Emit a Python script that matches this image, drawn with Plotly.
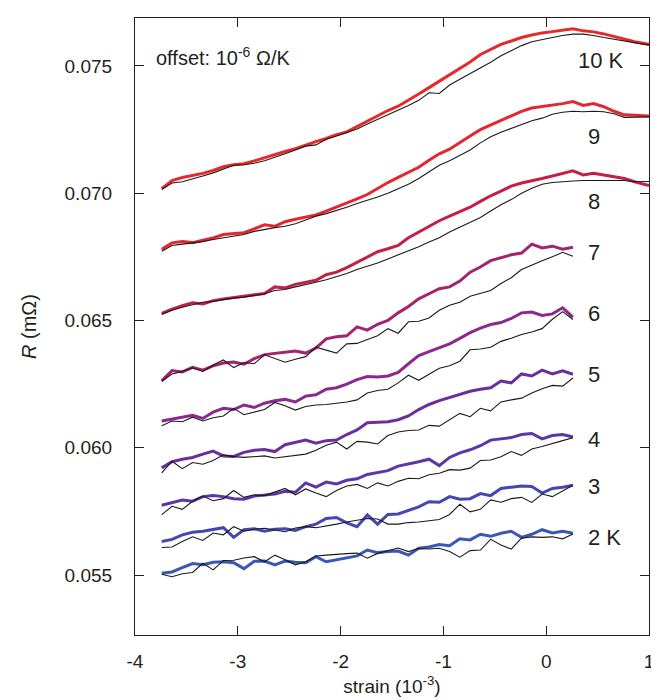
import plotly.graph_objects as go

# strain (10^-3) sample positions
x_short = [-3.74, -3.64, -3.54, -3.44, -3.34, -3.24, -3.14, -3.04, -2.94, -2.84,
           -2.74, -2.64, -2.54, -2.44, -2.34, -2.24, -2.14, -2.04, -1.94, -1.84,
           -1.74, -1.64, -1.54, -1.44, -1.34, -1.24, -1.14, -1.04, -0.94, -0.84,
           -0.74, -0.64, -0.54, -0.44, -0.34, -0.24, -0.14, -0.04, 0.06, 0.16, 0.26]
x_long = [-3.74, -3.64, -3.54, -3.44, -3.34, -3.24, -3.14, -3.04, -2.94, -2.84,
          -2.74, -2.64, -2.54, -2.44, -2.34, -2.24, -2.14, -2.04, -1.94, -1.84,
          -1.74, -1.64, -1.54, -1.44, -1.34, -1.24, -1.14, -1.04, -0.94, -0.84,
          -0.74, -0.64, -0.54, -0.44, -0.34, -0.24, -0.14, -0.04, 0.06, 0.16,
          0.26, 0.36, 0.46, 0.56, 0.66, 0.76, 0.86, 1.0]

# R (mOhm), coloured curves and black reference curves
r10 = [0.07018, 0.07050, 0.07062, 0.07070, 0.07078, 0.07090, 0.07104, 0.07112, 0.07116, 0.07127,
       0.07140, 0.07150, 0.07164, 0.07175, 0.07190, 0.07203, 0.07215, 0.07230, 0.07241, 0.07262,
       0.07285, 0.07306, 0.07325, 0.07342, 0.07365, 0.07390, 0.07415, 0.07440, 0.07468, 0.07492,
       0.07516, 0.07545, 0.07566, 0.07585, 0.07598, 0.07612, 0.07622, 0.07630, 0.07635, 0.07640,
       0.07646, 0.07638, 0.07634, 0.07626, 0.07615, 0.07605, 0.07595, 0.07585]
b10 = [0.07015, 0.07040, 0.07045, 0.07058, 0.07068, 0.07080, 0.07095, 0.07110, 0.07112, 0.07118,
       0.07128, 0.07140, 0.07155, 0.07170, 0.07185, 0.07190, 0.07212, 0.07225, 0.07238, 0.07252,
       0.07272, 0.07290, 0.07310, 0.07325, 0.07345, 0.07365, 0.07395, 0.07392, 0.07425, 0.07448,
       0.07470, 0.07492, 0.07515, 0.07540, 0.07560, 0.07580, 0.07595, 0.07605, 0.07612, 0.07620,
       0.07625, 0.07625, 0.07620, 0.07612, 0.07605, 0.07598, 0.07590, 0.07582]
r9 = [0.06780, 0.06805, 0.06810, 0.06806, 0.06815, 0.06824, 0.06838, 0.06842, 0.06845, 0.06860,
      0.06876, 0.06870, 0.06888, 0.06898, 0.06905, 0.06915, 0.06930, 0.06945, 0.06962, 0.06978,
      0.06995, 0.07020, 0.07042, 0.07062, 0.07082, 0.07102, 0.07130, 0.07155, 0.07173, 0.07200,
      0.07225, 0.07250, 0.07268, 0.07285, 0.07302, 0.07322, 0.07335, 0.07340, 0.07345, 0.07352,
      0.07360, 0.07345, 0.07352, 0.07340, 0.07322, 0.07308, 0.07306, 0.07303]
b9 = [0.06772, 0.06795, 0.06800, 0.06805, 0.06810, 0.06818, 0.06825, 0.06830, 0.06838, 0.06850,
      0.06858, 0.06865, 0.06870, 0.06880, 0.06895, 0.06910, 0.06920, 0.06932, 0.06945, 0.06960,
      0.06972, 0.06985, 0.07000, 0.07018, 0.07035, 0.07058, 0.07085, 0.07110, 0.07128, 0.07150,
      0.07170, 0.07198, 0.07222, 0.07240, 0.07255, 0.07272, 0.07285, 0.07295, 0.07310, 0.07318,
      0.07322, 0.07320, 0.07322, 0.07320, 0.07312, 0.07298, 0.07300, 0.07300]
r8 = [0.06528, 0.06545, 0.06558, 0.06570, 0.06565, 0.06578, 0.06585, 0.06590, 0.06596, 0.06600,
      0.06606, 0.06632, 0.06628, 0.06642, 0.06650, 0.06658, 0.06680, 0.06690, 0.06708, 0.06728,
      0.06748, 0.06770, 0.06782, 0.06795, 0.06825, 0.06848, 0.06872, 0.06892, 0.06910, 0.06926,
      0.06945, 0.06968, 0.06990, 0.07008, 0.07028, 0.07040, 0.07048, 0.07058, 0.07068, 0.07078,
      0.07088, 0.07072, 0.07078, 0.07072, 0.07065, 0.07058, 0.07045, 0.07030]
b8 = [0.06524, 0.06540, 0.06552, 0.06562, 0.06572, 0.06575, 0.06582, 0.06588, 0.06592, 0.06598,
      0.06605, 0.06618, 0.06622, 0.06632, 0.06640, 0.06650, 0.06660, 0.06672, 0.06685, 0.06700,
      0.06712, 0.06726, 0.06742, 0.06758, 0.06772, 0.06790, 0.06808, 0.06825, 0.06848, 0.06868,
      0.06885, 0.06905, 0.06930, 0.06955, 0.06975, 0.07000, 0.07020, 0.07035, 0.07042, 0.07046,
      0.07048, 0.07050, 0.07050, 0.07052, 0.07052, 0.07050, 0.07045, 0.07046]
r7 = [0.06263, 0.06303, 0.06298, 0.06316, 0.06305, 0.06322, 0.06333, 0.06337, 0.06328, 0.06350,
      0.06366, 0.06370, 0.06375, 0.06380, 0.06372, 0.06392, 0.06428, 0.06436, 0.06440, 0.06475,
      0.06462, 0.06485, 0.06500, 0.06530, 0.06555, 0.06585, 0.06605, 0.06625, 0.06632, 0.06655,
      0.06690, 0.06710, 0.06735, 0.06748, 0.06758, 0.06765, 0.06800, 0.06785, 0.06792, 0.06780,
      0.06788]
b7 = [0.06261, 0.06290, 0.06300, 0.06314, 0.06300, 0.06325, 0.06345, 0.06315, 0.06335, 0.06330,
      0.06365, 0.06350, 0.06336, 0.06348, 0.06358, 0.06395, 0.06385, 0.06372, 0.06408, 0.06410,
      0.06425, 0.06440, 0.06468, 0.06450, 0.06495, 0.06497, 0.06510, 0.06540, 0.06560, 0.06572,
      0.06595, 0.06605, 0.06618, 0.06645, 0.06668, 0.06700, 0.06718, 0.06735, 0.06750, 0.06768,
      0.06752]
r6 = [0.06105, 0.06112, 0.06120, 0.06128, 0.06115, 0.06140, 0.06155, 0.06150, 0.06168, 0.06158,
      0.06175, 0.06185, 0.06190, 0.06180, 0.06203, 0.06208, 0.06230, 0.06236, 0.06250, 0.06268,
      0.06280, 0.06278, 0.06282, 0.06296, 0.06330, 0.06362, 0.06378, 0.06392, 0.06408, 0.06430,
      0.06452, 0.06470, 0.06484, 0.06492, 0.06508, 0.06530, 0.06533, 0.06520, 0.06526, 0.06550,
      0.06513]
b6 = [0.06086, 0.06105, 0.06102, 0.06120, 0.06105, 0.06118, 0.06125, 0.06155, 0.06130, 0.06140,
      0.06150, 0.06178, 0.06165, 0.06148, 0.06162, 0.06168, 0.06170, 0.06175, 0.06180, 0.06188,
      0.06215, 0.06225, 0.06230, 0.06255, 0.06285, 0.06265, 0.06290, 0.06312, 0.06322, 0.06340,
      0.06385, 0.06388, 0.06395, 0.06418, 0.06430, 0.06445, 0.06455, 0.06468, 0.06505, 0.06535,
      0.06504]
r5 = [0.05921, 0.05945, 0.05955, 0.05962, 0.05975, 0.05987, 0.05968, 0.05966, 0.05982, 0.05990,
      0.05993, 0.05985, 0.06012, 0.06020, 0.06030, 0.06018, 0.06028, 0.06030, 0.06052, 0.06070,
      0.06098, 0.06100, 0.06102, 0.06110, 0.06125, 0.06150, 0.06170, 0.06185, 0.06198, 0.06212,
      0.06222, 0.06230, 0.06236, 0.06262, 0.06255, 0.06290, 0.06282, 0.06305, 0.06290, 0.06302,
      0.06289]
b5 = [0.05901, 0.05947, 0.05918, 0.05942, 0.05935, 0.05950, 0.05972, 0.05965, 0.05962, 0.05965,
      0.05968, 0.05960, 0.05965, 0.05968, 0.05975, 0.05990, 0.06010, 0.06022, 0.05995, 0.06025,
      0.06022, 0.06015, 0.06048, 0.06062, 0.06068, 0.06070, 0.06088, 0.06085, 0.06110, 0.06135,
      0.06122, 0.06155, 0.06145, 0.06180, 0.06188, 0.06195, 0.06215, 0.06232, 0.06245, 0.06242,
      0.06274]
r4 = [0.05774, 0.05783, 0.05795, 0.05790, 0.05808, 0.05812, 0.05808, 0.05800, 0.05798, 0.05810,
      0.05813, 0.05818, 0.05829, 0.05825, 0.05862, 0.05845, 0.05865, 0.05858, 0.05872, 0.05878,
      0.05895, 0.05902, 0.05910, 0.05928, 0.05938, 0.05945, 0.05955, 0.05930, 0.05962, 0.05980,
      0.05992, 0.06008, 0.06030, 0.06036, 0.06040, 0.06052, 0.06056, 0.06035, 0.06048, 0.06052,
      0.06042]
b4 = [0.05737, 0.05770, 0.05758, 0.05790, 0.05810, 0.05792, 0.05800, 0.05832, 0.05805, 0.05815,
      0.05812, 0.05825, 0.05840, 0.05815, 0.05838, 0.05822, 0.05808, 0.05832, 0.05850, 0.05856,
      0.05840, 0.05862, 0.05850, 0.05868, 0.05880, 0.05878, 0.05894, 0.05900, 0.05914, 0.05912,
      0.05920, 0.05950, 0.05952, 0.05965, 0.05985, 0.05970, 0.05995, 0.06005, 0.06018, 0.06028,
      0.06039]
r3 = [0.05632, 0.05640, 0.05658, 0.05668, 0.05672, 0.05680, 0.05686, 0.05648, 0.05678, 0.05682,
      0.05672, 0.05680, 0.05682, 0.05675, 0.05690, 0.05700, 0.05722, 0.05726, 0.05705, 0.05690,
      0.05736, 0.05700, 0.05738, 0.05740, 0.05755, 0.05768, 0.05788, 0.05786, 0.05808, 0.05798,
      0.05800, 0.05820, 0.05812, 0.05840, 0.05845, 0.05850, 0.05848, 0.05822, 0.05840, 0.05845,
      0.05853]
b3 = [0.05608, 0.05610, 0.05632, 0.05650, 0.05636, 0.05665, 0.05658, 0.05690, 0.05672, 0.05680,
      0.05684, 0.05678, 0.05670, 0.05685, 0.05690, 0.05686, 0.05692, 0.05700, 0.05708, 0.05715,
      0.05722, 0.05720, 0.05700, 0.05700, 0.05706, 0.05708, 0.05712, 0.05718, 0.05738, 0.05778,
      0.05748, 0.05758, 0.05795, 0.05786, 0.05800, 0.05805, 0.05785, 0.05818, 0.05808, 0.05832,
      0.05853]
r2 = [0.05507, 0.05512, 0.05529, 0.05545, 0.05540, 0.05550, 0.05552, 0.05548, 0.05525, 0.05554,
      0.05555, 0.05540, 0.05555, 0.05550, 0.05548, 0.05572, 0.05552, 0.05560, 0.05566, 0.05575,
      0.05598, 0.05588, 0.05592, 0.05594, 0.05578, 0.05605, 0.05610, 0.05620, 0.05615, 0.05642,
      0.05638, 0.05660, 0.05652, 0.05664, 0.05672, 0.05648, 0.05660, 0.05678, 0.05665, 0.05672,
      0.05664]
b2 = [0.05503, 0.05493, 0.05505, 0.05510, 0.05546, 0.05520, 0.05557, 0.05558, 0.05567, 0.05572,
      0.05552, 0.05578, 0.05560, 0.05540, 0.05552, 0.05575, 0.05578, 0.05582, 0.05584, 0.05586,
      0.05566, 0.05585, 0.05595, 0.05606, 0.05592, 0.05604, 0.05602, 0.05605, 0.05592, 0.05570,
      0.05596, 0.05598, 0.05640, 0.05618, 0.05602, 0.05645, 0.05650, 0.05648, 0.05650, 0.05642,
      0.05661]

labels = ["10 K", "9", "8", "7", "6", "5", "4", "3", "2 K"]
label_y = [0.07520, 0.07224, 0.06967, 0.06767, 0.06526, 0.06287, 0.06033, 0.05849, 0.05647]
label_x = [0.29, 0.39, 0.39, 0.39, 0.39, 0.39, 0.39, 0.39, 0.39]
colors = ["#E52A2C", "#E3262F", "#C41F47", "#A3236F", "#8A298E", "#6C2E9C", "#5A37A7", "#4546AF", "#3A57B6"]

series = [
    (x_long, r10, b10), (x_long, r9, b9), (x_long, r8, b8),
    (x_short, r7, b7), (x_short, r6, b6), (x_short, r5, b5),
    (x_short, r4, b4), (x_short, r3, b3), (x_short, r2, b2),
]

fig = go.Figure()
for (xs, rc, bk), col, name in zip(series, colors, labels):
    fig.add_trace(go.Scatter(x=xs, y=rc, mode="lines", name=name,
                             line=dict(color=col, width=3), showlegend=False))
for (xs, rc, bk), name in zip(series, labels):
    fig.add_trace(go.Scatter(x=xs, y=bk, mode="lines", name=name + " ref",
                             line=dict(color="#1a1a1a", width=1.1), showlegend=False))

TXT = "#231F20"
FONT = "Liberation Sans, Arial, Helvetica, sans-serif"
for t, xv, yv in zip(labels, label_x, label_y):
    fig.add_annotation(x=xv, y=yv, text=t, showarrow=False, xanchor="left", yanchor="middle",
                       font=dict(size=22, color=TXT, family=FONT))
fig.add_annotation(x=-3.82, y=0.07537, text="offset: 10<sup>-6</sup> Ω/K", showarrow=False,
                   xanchor="left", yanchor="middle", font=dict(size=20, color=TXT, family=FONT))

axis_common = dict(showgrid=False, zeroline=False, showline=True, linecolor=TXT, linewidth=1.2,
                   mirror="ticks", ticks="inside", ticklen=9, tickwidth=1.2, tickcolor=TXT,
                   tickfont=dict(size=19, color=TXT, family=FONT))

fig.update_xaxes(range=[-4, 1], tickvals=[-4, -3, -2, -1, 0, 1],
                 ticktext=["-4", "-3", "-2", "-1", "0", "1"], ticklabelstandoff=9,
                 title=dict(text="strain (10<sup>-3</sup>)", font=dict(size=19, color=TXT, family=FONT),
                            standoff=8),
                 **axis_common)
fig.update_yaxes(range=[0.052643, 0.076885], tickvals=[0.055, 0.060, 0.065, 0.070, 0.075],
                 ticktext=["0.055", "0.060", "0.065", "0.070", "0.075"], ticklabelstandoff=18,
                 title=dict(text="<i>R</i> (mΩ)", font=dict(size=20, color=TXT, family=FONT),
                            standoff=22),
                 **axis_common)

fig.update_layout(width=659, height=700, margin=dict(l=127, r=18, t=10, b=73, autoexpand=False),
                  plot_bgcolor="white", paper_bgcolor="white", showlegend=False)

fig.write_html("out.html")
